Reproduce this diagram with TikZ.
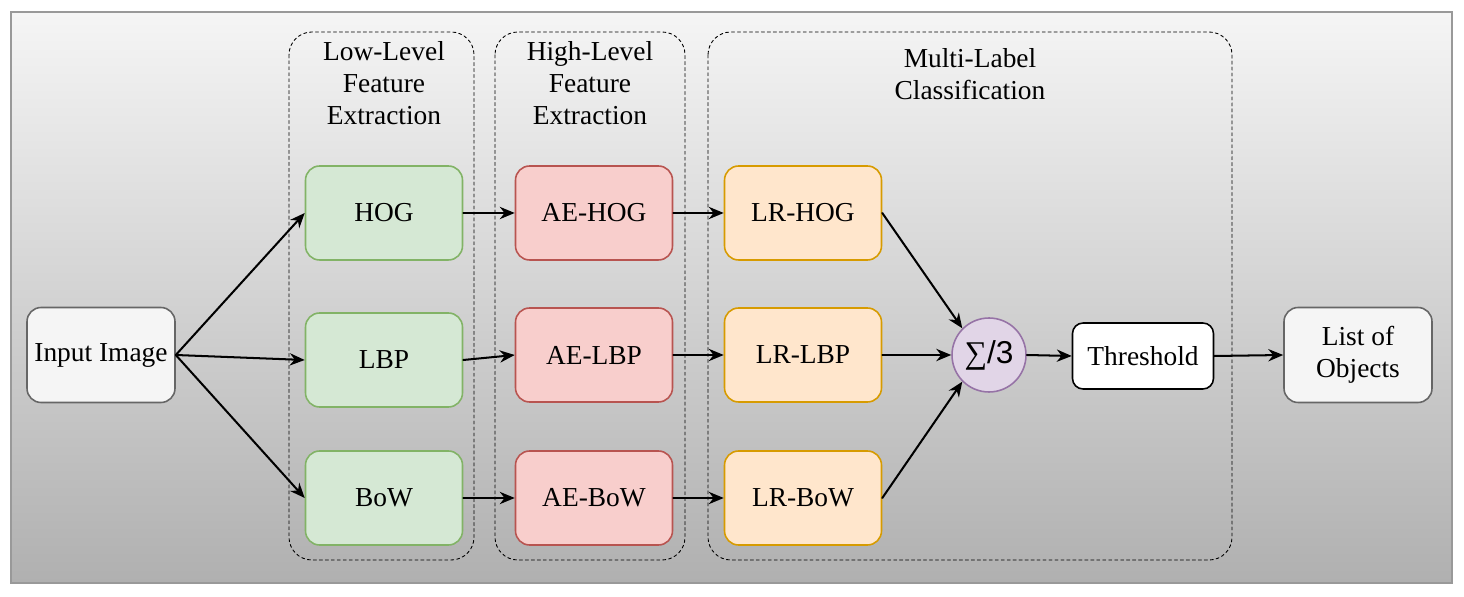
\documentclass[tikz,border=0pt]{standalone}
\usepackage{fontspec}
\setmainfont{Liberation Serif}
\newfontfamily\sumsans{Liberation Sans}
\usetikzlibrary{arrows.meta,positioning}

\definecolor{greyfill}{HTML}{F5F5F5}
\definecolor{greyline}{HTML}{666666}
\definecolor{lowfill}{HTML}{D5E8D4}
\definecolor{lowline}{HTML}{82B366}
\definecolor{highfill}{HTML}{F8CECC}
\definecolor{highline}{HTML}{B85450}
\definecolor{lrfill}{HTML}{FFE6CC}
\definecolor{lrline}{HTML}{D79B00}
\definecolor{sumfill}{HTML}{E1D5E7}
\definecolor{sumline}{HTML}{9673A6}

\tikzset{
  box/.style={draw, rounded corners=8pt, line width=0.9pt, minimum width=3.14cm, minimum height=1.88cm, align=center},
  group/.style={draw, dash pattern=on 1.7pt off 1.7pt, rounded corners=13pt, line width=0.5pt},
  title/.style={align=center, font=\fontsize{15.6}{18.4}\selectfont},
  flow/.style={-{Stealth[length=8.5pt,width=7pt]}, line width=1.15pt},
}

\begin{document}
\begin{tikzpicture}[x=0.02cm, y=-0.02cm, every node/.style={font=\fontsize{15.6}{18.4}\selectfont}, line cap=round]
  \useasboundingbox (0,0) rectangle (1464,597);

  % background panel
  \shade[top color=greyfill, bottom color=black!31] (11,12) rectangle (1452,583);
  \draw[black!40, line width=0.6pt] (11,12) rectangle (1452,583);

  % stage groups
  \draw[group] (289,32) rectangle (474,560);
  \draw[group] (495,32) rectangle (685,560);
  \draw[group] (708,32) rectangle (1232,560);
  \node[title] (lowtitle)  at (384,83) {Low-Level\\Feature\\Extraction};
  \node[title] (hightitle) at (590,83) {High-Level\\Feature\\Extraction};
  \node[title] (mltitle)   at (970,74) {Multi-Label\\Classification};

  % input and output
  \node[box, fill=greyfill, draw=greyline, minimum width=2.96cm, minimum height=1.9cm] (input) at (101,355) {Input Image};
  \node[box, fill=greyfill, draw=greyline, minimum width=2.96cm, minimum height=1.9cm] (output) at (1358,355) {List of\\Objects};

  % feature rows
  \foreach \f/\y in {HOG/213, LBP/360, BoW/498} {
    \node[box, fill=lowfill, draw=lowline] (low\f) at (384,\y) {\f};
  }
  \foreach \f/\y in {HOG/213, LBP/355, BoW/498} {
    \node[box, fill=highfill, draw=highline] (ae\f) at (594,\y) {AE-\f};
    \node[box, fill=lrfill, draw=lrline] (lr\f) at (803,\y) {LR-\f};
  }

  % fusion
  \node[circle, draw=sumline, fill=sumfill, line width=0.9pt, minimum size=1.48cm, inner sep=0pt, font=\fontsize{18}{22}\selectfont] (sum) at (989,355) {∑{\sumsans/3}};
  \node[draw=black, fill=white, rounded corners=6pt, line width=0.9pt, minimum width=2.82cm, minimum height=1.32cm] (thresh) at (1143,356) {Threshold};

  % connectors
  \foreach \f in {HOG, LBP, BoW} {
    \draw[flow] (input.east) -- (low\f.west);
    \draw[flow] (low\f.east) -- (ae\f.west);
    \draw[flow] (ae\f.east) -- (lr\f.west);
  }
  \draw[flow] (lrHOG.east) -- (sum.north west);
  \draw[flow] (lrLBP.east) -- (sum.west);
  \draw[flow] (lrBoW.east) -- (sum.south west);
  \draw[flow] (sum.east) -- (thresh.west);
  \draw[flow] (thresh.east) -- (output.west);
\end{tikzpicture}
\end{document}
